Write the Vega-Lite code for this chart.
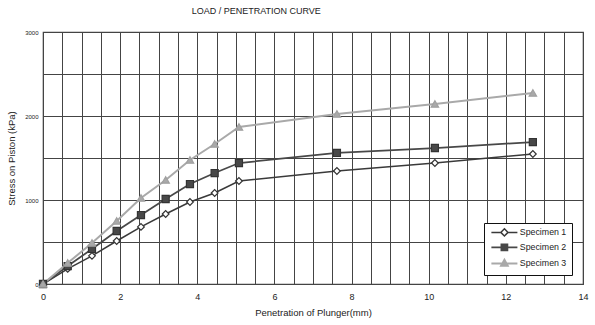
{
  "$schema": "https://vega.github.io/schema/vega-lite/v6.json",
  "width": 540,
  "height": 252,
  "autosize": {"type": "none"},
  "padding": {"left": 43, "top": 32, "right": 12, "bottom": 41},
  "background": "white",
  "title": {"text": "LOAD / PENETRATION CURVE", "anchor": "start", "dx": 185, "offset": 13, "fontSize": 9, "fontWeight": "normal", "font": "Liberation Sans", "color": "#222"},
  "config": {
    "font": "Liberation Sans",
    "view": {"stroke": "#444", "strokeWidth": 1.2},
    "axis": {"gridColor": "#444", "gridOpacity": 1, "gridWidth": 1, "domain": false, "ticks": false, "labelColor": "#222", "titleColor": "#222", "titleFontWeight": "normal", "titleFontSize": 9.5}
  },
  "data": {"values": [
    {"x": 0, "y": 0, "s": "Specimen 1"},
    {"x": 0.64, "y": 180, "s": "Specimen 1"},
    {"x": 1.27, "y": 335, "s": "Specimen 1"},
    {"x": 1.91, "y": 512, "s": "Specimen 1"},
    {"x": 2.54, "y": 680, "s": "Specimen 1"},
    {"x": 3.18, "y": 833, "s": "Specimen 1"},
    {"x": 3.81, "y": 976, "s": "Specimen 1"},
    {"x": 4.45, "y": 1083, "s": "Specimen 1"},
    {"x": 5.08, "y": 1226, "s": "Specimen 1"},
    {"x": 7.62, "y": 1345, "s": "Specimen 1"},
    {"x": 10.16, "y": 1440, "s": "Specimen 1"},
    {"x": 12.7, "y": 1548, "s": "Specimen 1"},
    {"x": 0, "y": 0, "s": "Specimen 2"},
    {"x": 0.64, "y": 214, "s": "Specimen 2"},
    {"x": 1.27, "y": 417, "s": "Specimen 2"},
    {"x": 1.91, "y": 631, "s": "Specimen 2"},
    {"x": 2.54, "y": 821, "s": "Specimen 2"},
    {"x": 3.18, "y": 1012, "s": "Specimen 2"},
    {"x": 3.81, "y": 1190, "s": "Specimen 2"},
    {"x": 4.45, "y": 1321, "s": "Specimen 2"},
    {"x": 5.08, "y": 1440, "s": "Specimen 2"},
    {"x": 7.62, "y": 1560, "s": "Specimen 2"},
    {"x": 10.16, "y": 1619, "s": "Specimen 2"},
    {"x": 12.7, "y": 1690, "s": "Specimen 2"},
    {"x": 0, "y": 0, "s": "Specimen 3"},
    {"x": 0.64, "y": 250, "s": "Specimen 3"},
    {"x": 1.27, "y": 488, "s": "Specimen 3"},
    {"x": 1.91, "y": 750, "s": "Specimen 3"},
    {"x": 2.54, "y": 1024, "s": "Specimen 3"},
    {"x": 3.18, "y": 1238, "s": "Specimen 3"},
    {"x": 3.81, "y": 1476, "s": "Specimen 3"},
    {"x": 4.45, "y": 1667, "s": "Specimen 3"},
    {"x": 5.08, "y": 1869, "s": "Specimen 3"},
    {"x": 7.62, "y": 2024, "s": "Specimen 3"},
    {"x": 10.16, "y": 2143, "s": "Specimen 3"},
    {"x": 12.7, "y": 2274, "s": "Specimen 3"}
  ]},
  "encoding": {
    "x": {"field": "x", "type": "quantitative", "scale": {"domain": [0, 14], "nice": false},
      "axis": {"title": "Penetration of Plunger(mm)", "values": [0,0.5,1,1.5,2,2.5,3,3.5,4,4.5,5,5.5,6,6.5,7,7.5,8,8.5,9,9.5,10,10.5,11,11.5,12,12.5,13,13.5,14],
        "format": "~g", "labelExpr": "datum.value % 2 === 0 ? datum.label : ''", "labelFontSize": 9, "labelPadding": 8, "titlePadding": 6, "labelFlush": false, "labelOverlap": false}},
    "y": {"field": "y", "type": "quantitative", "scale": {"domain": [0, 3000], "nice": false},
      "axis": {"title": "Stress on Piston (kPa)", "values": [0,500,1000,1500,2000,2500,3000],
        "labelExpr": "datum.value % 1000 === 0 ? datum.label : ''", "format": "d", "labelFontSize": 6, "labelPadding": 5, "titlePadding": 8, "labelOverlap": false, "labelFlush": false}}
  },
  "layer": [
    {
      "mark": {"type": "line"},
      "encoding": {
        "color": {"field": "s", "type": "nominal", "scale": {"domain": ["Specimen 1", "Specimen 2", "Specimen 3"], "range": ["#3a3a3a", "#484848", "#a9a9a9"]},
          "legend": {"title": null, "orient": "none", "legendX": 441, "legendY": 191, "strokeColor": "#111", "fillColor": "white", "padding": 5,
            "labelFontSize": 8.8, "labelColor": "#222", "symbolSize": 36, "labelOffset": 22, "rowPadding": 1, "symbolType": "circle",
            "encode": {"symbols": {"update": {
              "shape": {"signal": "datum.value === 'Specimen 1' ? 'M-0.67,0L2.47,0M4.87,0L8,0M3.67,-1.2L4.87,0L3.67,1.2L2.47,0Z' : datum.value === 'Specimen 2' ? 'M-0.67,0L8,0M2.67,-1L4.67,-1L4.67,1L2.67,1Z' : 'M-0.67,0L8,0M3.67,-1.2L4.77,0.8L2.57,0.8Z'"},
              "fill": {"signal": "datum.value === 'Specimen 1' ? 'white' : datum.value === 'Specimen 2' ? '#484848' : '#a9a9a9'"},
              "strokeWidth": {"signal": "datum.value === 'Specimen 1' ? 1.3 : 2"}
            }}}}},
        "strokeWidth": {"field": "s", "type": "nominal", "scale": {"domain": ["Specimen 1", "Specimen 2", "Specimen 3"], "range": [1.5, 2, 2]}, "legend": null}
      }
    },
    {
      "transform": [{"filter": "datum.s === 'Specimen 1'"}],
      "mark": {"type": "point", "shape": "diamond", "filled": true, "fill": "white", "stroke": "#333333", "strokeWidth": 1.2, "size": 45, "opacity": 1}
    },
    {
      "transform": [{"filter": "datum.s === 'Specimen 2'"}],
      "mark": {"type": "point", "shape": "square", "filled": true, "fill": "#484848", "stroke": "#333333", "strokeWidth": 1.2, "size": 50, "opacity": 1}
    },
    {
      "transform": [{"filter": "datum.s === 'Specimen 3'"}],
      "mark": {"type": "point", "shape": "triangle-up", "filled": true, "fill": "#a9a9a9", "stroke": "#a0a0a0", "strokeWidth": 1.2, "size": 55, "opacity": 1}
    }
  ]
}
